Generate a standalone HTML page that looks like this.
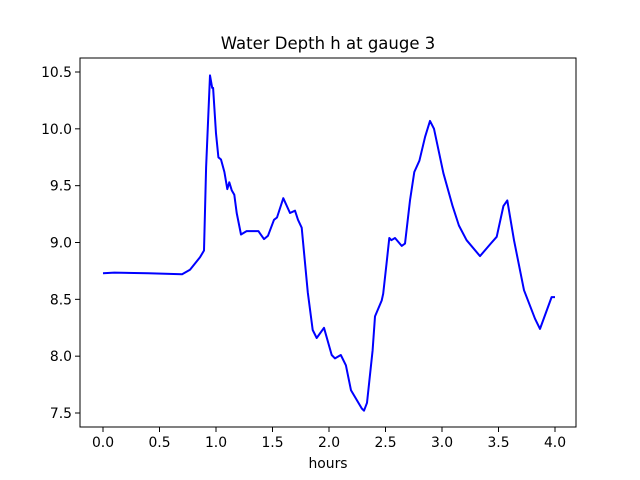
<!DOCTYPE html>
<html><head><meta charset="utf-8"><style>
body{margin:0;background:#fff;}
svg{display:block;font-family:"DejaVu Sans","Liberation Sans",sans-serif;}
</style></head><body>
<svg id="chart" width="640" height="480" viewBox="0 0 640 480" xmlns="http://www.w3.org/2000/svg">
<rect x="0" y="0" width="640" height="480" fill="#fff"/>
<text x="328" y="49" text-anchor="middle" font-size="16.5">Water Depth h at gauge 3</text>
<g id="xaxis"></g>
<g id="yaxis"></g>
<path id="line" fill="none" stroke="#0000ff" stroke-width="2" stroke-linejoin="round"/>
<rect x="80" y="58" width="496" height="369" fill="none" stroke="#000" stroke-width="1"/>
<text x="328" y="468" text-anchor="middle" font-size="13.9">hours</text>
</svg>
<script>
const hours=[0.00,0.10,0.40,0.70,0.77,0.858,0.894,0.912,0.947,0.966,0.974,1.000,1.021,1.044,1.074,1.100,1.118,1.139,1.162,1.183,1.221,1.271,1.375,1.389,1.425,1.460,1.513,1.540,1.596,1.655,1.699,1.726,1.758,1.812,1.856,1.891,1.956,2.024,2.053,2.104,2.150,2.195,2.290,2.310,2.336,2.386,2.407,2.466,2.480,2.510,2.534,2.552,2.584,2.643,2.673,2.717,2.755,2.800,2.850,2.894,2.929,3.012,3.094,3.150,3.218,3.336,3.431,3.484,3.543,3.578,3.637,3.726,3.823,3.867,3.970,4.000];
const depth=[8.73,8.735,8.73,8.72,8.76,8.87,8.93,9.66,10.47,10.36,10.36,9.96,9.75,9.73,9.62,9.47,9.53,9.46,9.42,9.26,9.07,9.10,9.10,9.08,9.03,9.06,9.20,9.22,9.39,9.26,9.28,9.20,9.13,8.56,8.23,8.16,8.25,8.01,7.98,8.01,7.92,7.70,7.54,7.52,7.59,8.05,8.35,8.49,8.55,8.82,9.04,9.02,9.04,8.97,8.99,9.37,9.62,9.72,9.93,10.07,10.0,9.61,9.32,9.15,9.02,8.88,8.99,9.05,9.32,9.37,9.02,8.58,8.33,8.24,8.52,8.52];
const xTicks=[0,0.5,1,1.5,2,2.5,3,3.5,4];
const xTickLabels=["0.0","0.5","1.0","1.5","2.0","2.5","3.0","3.5","4.0"];
const yTicks=[7.5,8,8.5,9,9.5,10,10.5];
const yTickLabels=["7.5","8.0","8.5","9.0","9.5","10.0","10.5"];
const NS="http://www.w3.org/2000/svg";
const xs=h=>103+h*113;
const ys=v=>72+(10.5-v)*113.67;
const xa=document.getElementById('xaxis'),ya=document.getElementById('yaxis');
xTicks.forEach((t,i)=>{
 const l=document.createElementNS(NS,'line');
 l.setAttribute('x1',xs(t));l.setAttribute('x2',xs(t));l.setAttribute('y1',427);l.setAttribute('y2',432);l.setAttribute('stroke','#000');
 
 
 xa.appendChild(l);
 const tx=document.createElementNS(NS,'text');
 tx.setAttribute('x',xs(t));tx.setAttribute('y',447);tx.setAttribute('text-anchor','middle');tx.setAttribute('font-size','13.9');
 tx.textContent=xTickLabels[i];
 
 
 xa.appendChild(tx);
});
yTicks.forEach((t,i)=>{
 const l=document.createElementNS(NS,'line');
 l.setAttribute('x1',75);l.setAttribute('x2',80);l.setAttribute('y1',ys(t));l.setAttribute('y2',ys(t));l.setAttribute('stroke','#000');
 
 
 ya.appendChild(l);
 const tx=document.createElementNS(NS,'text');
 tx.setAttribute('x',72);tx.setAttribute('y',ys(t)+5);tx.setAttribute('text-anchor','end');tx.setAttribute('font-size','13.9');
 tx.textContent=yTickLabels[i];
 
 
 ya.appendChild(tx);
});
document.getElementById('line').setAttribute('d',hours.map((h,i)=>(i?'L':'M')+xs(h).toFixed(1)+' '+ys(depth[i]).toFixed(1)).join(' '));
</script>
</body></html>
